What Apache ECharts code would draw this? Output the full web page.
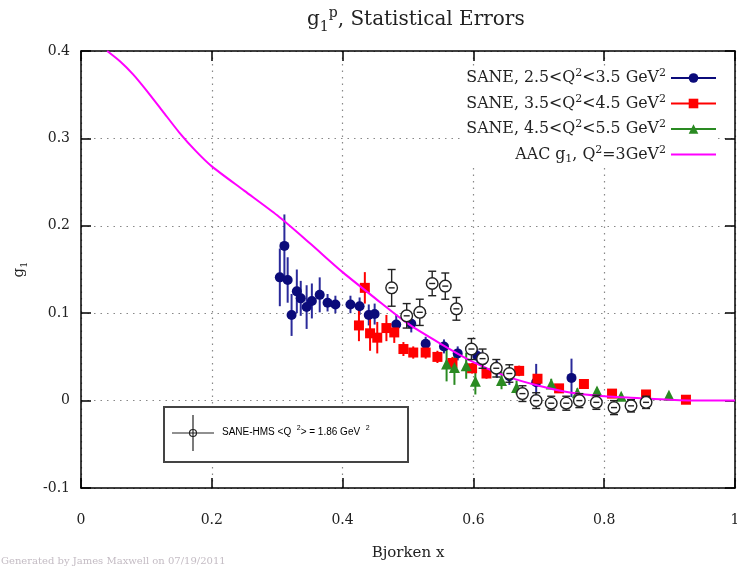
<!DOCTYPE html>
<html><head><meta charset="utf-8">
<script src="https://cdn.jsdelivr.net/npm/echarts@6/dist/echarts.min.js"></script>
<style>html,body{margin:0;padding:0;background:#fff}#c{width:737px;height:571px}</style>
</head><body><div id="c"></div>
<script>
// ---- data ----
const blueX = [0.304,0.311,0.316,0.322,0.330,0.336,0.345,0.353,0.365,0.377,0.389,0.412,0.426,0.440,0.449,0.482,0.505,0.527,0.555,0.576,0.606,0.614,0.636,0.655,0.696,0.750];
const blueY = [0.141,0.177,0.138,0.098,0.125,0.117,0.107,0.114,0.121,0.112,0.110,0.110,0.108,0.098,0.099,0.087,0.088,0.065,0.062,0.054,0.051,0.046,0.036,0.028,0.021,0.026];
const blueErr = [0.033,0.036,0.026,0.024,0.025,0.020,0.025,0.020,0.020,0.010,0.010,0.010,0.010,0.012,0.012,0.012,0.010,0.008,0.008,0.008,0.008,0.010,0.010,0.010,0.021,0.022];

const redX = [0.425,0.434,0.442,0.453,0.467,0.479,0.493,0.508,0.527,0.545,0.568,0.598,0.620,0.670,0.698,0.731,0.769,0.812,0.864,0.925];
const redY = [0.086,0.129,0.077,0.072,0.083,0.078,0.059,0.055,0.055,0.050,0.043,0.037,0.031,0.034,0.025,0.014,0.019,0.008,0.007,0.001];
const redErr = [0.018,0.018,0.020,0.018,0.015,0.012,0.008,0.007,0.007,0.007,0.007,0.006,0.006,0.006,0.005,0.005,0.005,0.004,0.004,0.003];

const greenX = [0.559,0.571,0.589,0.603,0.643,0.666,0.719,0.759,0.789,0.826,0.899];
const greenY = [0.042,0.038,0.040,0.022,0.023,0.015,0.019,0.009,0.011,0.005,0.006];
const greenErr = [0.020,0.020,0.015,0.015,0.010,0.008,0.006,0.005,0.004,0.003,0.003];

const hmsX = [0.475,0.498,0.518,0.537,0.557,0.574,0.597,0.614,0.635,0.655,0.675,0.696,0.719,0.742,0.762,0.788,0.815,0.841,0.864];
const hmsY = [0.129,0.097,0.101,0.134,0.131,0.105,0.059,0.048,0.037,0.031,0.008,0.000,-0.003,-0.003,0.000,-0.002,-0.008,-0.006,-0.002];
const hmsErr = [0.021,0.014,0.015,0.014,0.015,0.013,0.012,0.011,0.010,0.010,0.009,0.009,0.008,0.008,0.008,0.008,0.008,0.007,0.007];

const aacX = [0.04,0.06,0.08,0.10,0.125,0.15,0.175,0.20,0.25,0.30,0.35,0.40,0.45,0.50,0.55,0.60,0.65,0.70,0.75,0.80,0.85,0.90,0.95,1.00];
const aacY = [0.400,0.388,0.373,0.355,0.331,0.307,0.286,0.268,0.240,0.212,0.180,0.147,0.117,0.088,0.065,0.044,0.028,0.017,0.009,0.005,0.003,0.001,0.000,0.000];

const nameBlue = 'SANE, 2.5<Q²<3.5 GeV²';
const nameRed = 'SANE, 3.5<Q²<4.5 GeV²';
const nameGreen = 'SANE, 4.5<Q²<5.5 GeV²';
const nameAAC = 'AAC g₁, Q²=3GeV²';
const titleText = 'g₁ᵖ, Statistical Errors';
const hmsLabel = 'SANE-HMS <Q  ²> = 1.86 GeV  ²';

// ---- helpers ----
const SERIF = 'DejaVu Serif';
function toRich(s) {
  let out = '', buf = '';
  const flush = () => { if (buf) { out += '{n|' + buf + '}'; buf = ''; } };
  for (const ch of s) {
    if (ch === '²') { flush(); out += '{s|2}'; }
    else if (ch === 'ᵖ') { flush(); out += '{s|p}'; }
    else if (ch === '₁') { flush(); out += '{b|1}'; }
    else buf += ch;
  }
  flush();
  return out;
}
function richSet(size, family, color, lh) {
  const small = Math.round(size * 0.68);
  return {
    n: { fontSize: size, fontFamily: family, color: color, lineHeight: lh, fontWeight: 'normal' },
    s: { fontSize: small, fontFamily: family, color: color, lineHeight: small, verticalAlign: 'top', fontWeight: 'normal' },
    b: { fontSize: small, fontFamily: family, color: color, lineHeight: small, verticalAlign: 'bottom', fontWeight: 'normal' }
  };
}
function triples(xs, ys, es) { return xs.map((x, i) => [x, ys[i], es[i]]); }
function pairs(xs, ys) { return xs.map((x, i) => [x, ys[i]]); }

function barRender(color, width) {
  return function (params, api) {
    const x = api.value(0), y = api.value(1), e = api.value(2);
    const t = api.coord([x, y + e]), b = api.coord([x, y - e]);
    return { type: 'line', shape: { x1: t[0], y1: t[1], x2: b[0], y2: b[1] }, style: { stroke: color, lineWidth: width } };
  };
}
function hmsRender(params, api) {
  const x = api.value(0), y = api.value(1), e = api.value(2);
  const c = api.coord([x, y]), t = api.coord([x, y + e]), b = api.coord([x, y - e]);
  const st = { stroke: '#222', lineWidth: 1.4 };
  return {
    type: 'group', children: [
      { type: 'line', shape: { x1: t[0], y1: t[1], x2: b[0], y2: b[1] }, style: st },
      { type: 'line', shape: { x1: t[0] - 4, y1: t[1], x2: t[0] + 4, y2: t[1] }, style: st },
      { type: 'line', shape: { x1: b[0] - 4, y1: b[1], x2: b[0] + 4, y2: b[1] }, style: st },
      { type: 'circle', shape: { cx: c[0], cy: c[1], r: 5.8 }, style: { fill: '#fff', stroke: '#222', lineWidth: 1.4 } },
      { type: 'line', shape: { x1: c[0] - 3, y1: c[1], x2: c[0] + 3, y2: c[1] }, style: st }
    ]
  };
}

const BLUE = '#0b0b7a', RED = '#ff0000', GREEN = '#2a8a22', MAG = '#ff00ff';
const fmt = v => String(Math.round(v * 10) / 10);

const chart = echarts.init(document.getElementById('c'));
const axisCommon = {
  axisLine: { show: true, onZero: false, lineStyle: { color: '#000', width: 1.5 } },
  axisTick: { show: true, inside: true, length: 10, lineStyle: { color: '#000', width: 1.5 } }
};
chart.setOption({
  animation: false,
  backgroundColor: '#fff',
  title: {
    text: toRich(titleText), left: 302, top: 1,
    textStyle: { fontWeight: 'normal', rich: richSet(20, SERIF, '#222', 28) }
  },
  grid: { left: 81, top: 51, right: 2, bottom: 83, outerBoundsMode: 'none', containLabel: false },
  legend: {
    orient: 'vertical', align: 'right', right: 20, top: 66,
    itemWidth: 45, itemHeight: 12, itemGap: 7.5, padding: [2, 0, 2, 6],
    backgroundColor: '#fff',
    data: [nameBlue, nameRed, nameGreen, { name: nameAAC, itemStyle: { opacity: 0 } }],
    formatter: n => toRich(n),
    textStyle: { rich: richSet(15.8, SERIF, '#222', 20) }
  },
  xAxis: [
    Object.assign({
      type: 'value', min: 0, max: 1, interval: 0.2, position: 'bottom',
      name: 'Bjorken x', nameLocation: 'middle', nameGap: 58,
      nameTextStyle: { fontFamily: SERIF, fontSize: 15, color: '#222' },
      axisLabel: { formatter: fmt, fontFamily: SERIF, fontSize: 14, color: '#222', margin: 25 },
      splitLine: { show: true, lineStyle: { type: [1.5, 5], color: '#888', width: 1.2 } }
    }, axisCommon),
    Object.assign({
      type: 'value', min: 0, max: 1, interval: 0.2, position: 'top',
      axisLabel: { show: false }, splitLine: { show: false }
    }, axisCommon)
  ],
  yAxis: [
    Object.assign({
      type: 'value', min: -0.1, max: 0.4, interval: 0.1, position: 'left',
      name: toRich('g₁'), nameLocation: 'middle', nameGap: 52, nameRotate: 90,
      nameTextStyle: { rich: richSet(15, SERIF, '#222', 20) },
      axisLabel: { formatter: fmt, fontFamily: SERIF, fontSize: 14, color: '#222', margin: 11 },
      splitLine: { show: true, lineStyle: { type: [1.5, 5], color: '#888', width: 1.2 } }
    }, axisCommon),
    Object.assign({
      type: 'value', min: -0.1, max: 0.4, interval: 0.1, position: 'right',
      axisLabel: { show: false }, splitLine: { show: false }
    }, axisCommon)
  ],
  series: [
    // legend key entries (line + marker)
    { name: nameBlue, type: 'line', data: [], symbol: 'circle', symbolSize: 10, itemStyle: { color: BLUE }, lineStyle: { color: BLUE, width: 2 } },
    { name: nameRed, type: 'line', data: [], symbol: 'rect', symbolSize: 10, itemStyle: { color: RED }, lineStyle: { color: RED, width: 2 } },
    { name: nameGreen, type: 'line', data: [], symbol: 'triangle', symbolSize: 10, itemStyle: { color: GREEN }, lineStyle: { color: GREEN, width: 2 } },
    // error bars
    { name: nameBlue, type: 'custom', renderItem: barRender('#2a2a9a', 2), data: triples(blueX, blueY, blueErr), encode: { x: 0, y: 1 }, z: 2 },
    { name: nameRed, type: 'custom', renderItem: barRender(RED, 2), data: triples(redX, redY, redErr), encode: { x: 0, y: 1 }, z: 2 },
    { name: nameGreen, type: 'custom', renderItem: barRender(GREEN, 2), data: triples(greenX, greenY, greenErr), encode: { x: 0, y: 1 }, z: 2 },
    // markers
    { name: nameBlue, type: 'scatter', symbol: 'circle', symbolSize: 10, itemStyle: { color: BLUE, opacity: 1 }, data: pairs(blueX, blueY), z: 3 },
    { name: nameRed, type: 'scatter', symbol: 'rect', symbolSize: 10, itemStyle: { color: RED, opacity: 1 }, data: pairs(redX, redY), z: 3 },
    { name: nameGreen, type: 'scatter', symbol: 'triangle', symbolSize: 11, itemStyle: { color: GREEN, opacity: 1 }, data: pairs(greenX, greenY), z: 3 },
    // AAC curve
    { name: nameAAC, type: 'line', data: pairs(aacX, aacY), smooth: 0.25, symbol: 'none', showSymbol: false, lineStyle: { color: MAG, width: 2 }, itemStyle: { color: MAG }, z: 4 },
    // SANE-HMS open circles
    { name: 'SANE-HMS', type: 'custom', renderItem: hmsRender, data: triples(hmsX, hmsY, hmsErr), encode: { x: 0, y: 1 }, z: 5 }
  ],
  graphic: [
    { type: 'rect', left: 163, top: 406, shape: { width: 244, height: 55 }, style: { fill: '#fff', stroke: '#444', lineWidth: 2 }, z: 10 },
    { type: 'group', z: 11, children: [
      { type: 'line', shape: { x1: 172, y1: 433, x2: 214, y2: 433 }, style: { stroke: '#222', lineWidth: 1.2 }, z: 11 },
      { type: 'line', shape: { x1: 193, y1: 415, x2: 193, y2: 451 }, style: { stroke: '#222', lineWidth: 1.2 }, z: 11 },
      { type: 'circle', shape: { cx: 193, cy: 433, r: 3.5 }, style: { fill: 'none', stroke: '#222', lineWidth: 1.2 }, z: 11 }
    ] },
    { type: 'text', left: 222, top: 425, z: 11,
      style: { text: toRich(hmsLabel), rich: richSet(10, 'Liberation Sans', '#222', 14) } },
    { type: 'text', left: 1, top: 556, z: 11,
      style: { text: 'Generated by James Maxwell on 07/19/2011', fontFamily: SERIF, fontSize: 10, fill: '#c4bcc4' } }
  ]
});
</script></body></html>
